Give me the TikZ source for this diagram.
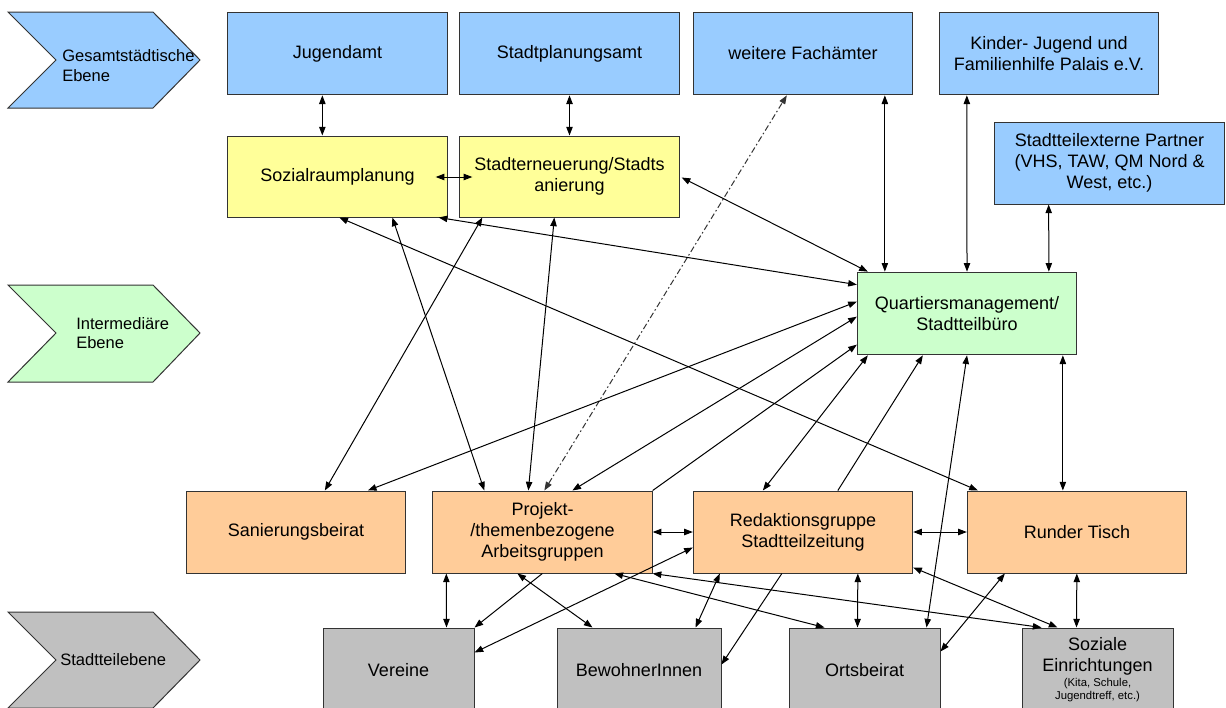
\documentclass[tikz,border=0pt]{standalone}
\usepackage{fontspec}
\setmainfont{Liberation Sans}
\usetikzlibrary{arrows.meta,calc,backgrounds}
\definecolor{cblue}{HTML}{99CCFF}
\definecolor{cyel}{HTML}{FFFF99}
\definecolor{cgreen}{HTML}{CCFFCC}
\definecolor{corange}{HTML}{FFCC99}
\definecolor{cgray}{HTML}{C0C0C0}
\definecolor{cedge}{HTML}{333333}
\begin{document}
\begin{tikzpicture}[x=0.75pt,y=-0.75pt,
  box/.style={draw=cedge,line width=0.75pt,inner sep=2pt,align=center,
    font=\fontsize{13.5}{15.75}\selectfont,minimum width=164.5pt,minimum height=62pt},
  graybox/.style={box,fill=cgray,minimum width=113.25pt,minimum height=63pt},
  conn/.style={line width=0.75pt,{Triangle[length=6.5pt,width=4.8pt]}-{Triangle[length=6.5pt,width=4.8pt]}},
  one/.style={line width=0.75pt,-{Triangle[length=6.5pt,width=4.8pt]}},
  dashdot/.style={draw=black!80,dash pattern=on 4.5pt off 2pt on 1.2pt off 2pt},
  chev/.style={draw=cedge,line width=0.75pt},
  chevtext/.style={anchor=west,align=left,inner sep=0pt,font=\fontsize{12.4}{14.5}\selectfont}]
\useasboundingbox (0,0) rectangle (1226,707);
\clip (0,0) rectangle (1226,707);
\fill[white] (0,0) rectangle (1226,707);
% level chevrons
\draw[chev,fill=cblue] (8,12) -- (153,12) -- (200,60) -- (153,108) -- (8,108) -- (56,60) -- cycle;
\node[chevtext] (l1) at (62,65.5) {Gesamtstädtische\\Ebene};
\draw[chev,fill=cgreen] (8,285) -- (153,285) -- (200,333) -- (153,382) -- (8,382) -- (56,333) -- cycle;
\node[chevtext] (l2) at (76,333) {Intermediäre\\Ebene};
\draw[chev,fill=cgray] (8,612) -- (153,612) -- (200,660) -- (153,708) -- (8,708) -- (56,660) -- cycle;
\node[chevtext] (l3) at (60,660) {Stadtteilebene};
% top level
\node[box,fill=cblue] (jug) at (337.5,53.5) {Jugendamt};
\node[box,fill=cblue] (spa) at (569.5,53.5) {Stadtplanungsamt};
\node[box,fill=cblue] (wfa) at (803,53.5) {weitere Fachämter};
\node[box,fill=cblue] (kjf) at (1049,53.5) {Kinder- Jugend und\\Familienhilfe Palais e.V.};
\node[box,fill=cblue,minimum width=173pt,minimum height=61.5pt] (ext) at (1109.5,163) {Stadtteilexterne Partner\\(VHS, TAW, QM Nord \&\\West, etc.)};
\node[box,fill=cyel,minimum height=60.75pt] (soz) at (337.5,176.5) {Sozialraumplanung};
\node[box,fill=cyel,minimum height=60.75pt] (ste) at (569.5,176.5) {Stadterneuerung/Stadts\\anierung};
% intermediate
\node[box,fill=cgreen] (qm) at (967,313.5) {Quartiersmanagement/\\Stadtteilbüro};
\node[box,fill=corange,minimum height=61.5pt] (san) at (296,532) {Sanierungsbeirat};
\node[box,fill=corange,minimum height=61.5pt] (pro) at (542.5,532) {Projekt-\\/themenbezogene\\Arbeitsgruppen};
\node[box,fill=corange,minimum height=61.5pt] (red) at (803,532) {Redaktionsgruppe\\Stadtteilzeitung};
\node[box,fill=corange,minimum height=61.5pt] (run) at (1077,532) {Runder Tisch};
% district level
\node[graybox] (ver) at (398.5,670) {Vereine};
\node[graybox,minimum width=123pt] (bew) at (639,670) {BewohnerInnen};
\node[graybox] (ort) at (864.5,670) {Ortsbeirat};
\node[graybox] (soze) at (1097.5,670) {Soziale\\Einrichtungen\\[-4.5pt]{\fontsize{8.5}{9.75}\selectfont\begin{tabular}[t]{@{}c@{}}(Kita, Schule,\\Jugendtreff, etc.)\end{tabular}}};
% connectors
\begin{pgfonlayer}{background}
\draw[conn] (san.south east) -- ($(ort.north west)+(0,27)$);
\end{pgfonlayer}
\draw[conn] ($(jug.south west)+(95,0)$) -- ($(soz.north west)+(95,0)$);
\draw[conn] (spa.south) -- (ste.north);
\draw[conn] ($(soz.east)+(-12,0.5)$) -- ($(ste.west)+(13,0.5)$);
\draw[conn,dashdot] ($(pro.north west)+(112,0)$) -- ($(wfa.south west)+(94,0)$);
\draw[conn] ($(wfa.south west)+(192,0)$) -- ($(qm.north west)+(28,0)$);
\draw[conn] ($(kjf.south west)+(28,0)$) -- (qm.north);
\draw[conn] ($(ext.south west)+(55,0)$) -- ($(qm.north west)+(192,0)$);
\draw[conn] ($(ste.east)+(2,1)$) -- ($(qm.north west)+(11,0)$);
\draw[conn] ($(soz.south east)+(-9,0)$) -- ($(qm.north west)+(0,13)$);
\draw[conn] ($(soz.south west)+(112,0)$) -- ($(run.north west)+(11,0)$);
\draw[conn] ($(soz.south west)+(165,0)$) -- ($(pro.north west)+(52,0)$);
\draw[conn] ($(ste.south west)+(23,0)$) -- ($(san.north west)+(139,0)$);
\draw[conn] ($(ste.south west)+(95,0)$) -- ($(pro.north west)+(96,0)$);
\draw[conn] ($(qm.north west)+(0,30)$) -- ($(san.north west)+(182,0)$);
\draw[conn] ($(qm.north west)+(0,45)$) -- ($(pro.north west)+(140,0)$);
\draw[one] (pro.north east) -- ($(qm.north west)+(0,73)$);
\draw[conn] ($(qm.south west)+(11,0)$) -- ($(red.north west)+(70,0)$);
\draw[one] ($(red.north west)+(145,0)$) -- ($(qm.south west)+(66,0)$);
\draw[conn] (qm.south) -- ($(ort.north west)+(138,0)$);
\draw[conn] ($(qm.south west)+(206,0)$) -- ($(run.north west)+(96,0)$);
\draw[conn] (pro.east) -- (red.west);
\draw[conn] (red.east) -- (run.west);
\draw[conn] ($(ver.north east)+(0,25)$) -- ($(red.north west)+(0,57)$);
\draw[conn] ($(pro.south west)+(14,0)$) -- ($(ver.north west)+(124,0)$);
\draw[one] ($(pro.south west)+(110,0)$) -- (ver.north east);
\draw[conn] ($(pro.south west)+(85,0)$) -- ($(bew.north west)+(36,0)$);
\draw[conn] ($(pro.south west)+(182,0)$) -- ($(ort.north west)+(36,0)$);
\draw[conn] (pro.south east) -- ($(soze.north west)+(20,0)$);
\draw[conn] ($(red.south west)+(27,0)$) -- ($(bew.north east)+(-26,0)$);
\draw[one] ($(red.south west)+(89,0)$) -- ($(bew.north east)+(0,37)$);
\draw[conn] ($(red.south west)+(165,0)$) -- ($(ort.north west)+(69,0)$);
\draw[conn] ($(red.south east)+(0,-6)$) -- ($(soze.north west)+(36,0)$);
\draw[conn] ($(ort.north east)+(0,24)$) -- ($(run.south west)+(38,0)$);
\draw[conn] ($(run.south west)+(110,0)$) -- ($(soze.north west)+(55,0)$);
\end{tikzpicture}
\end{document}
